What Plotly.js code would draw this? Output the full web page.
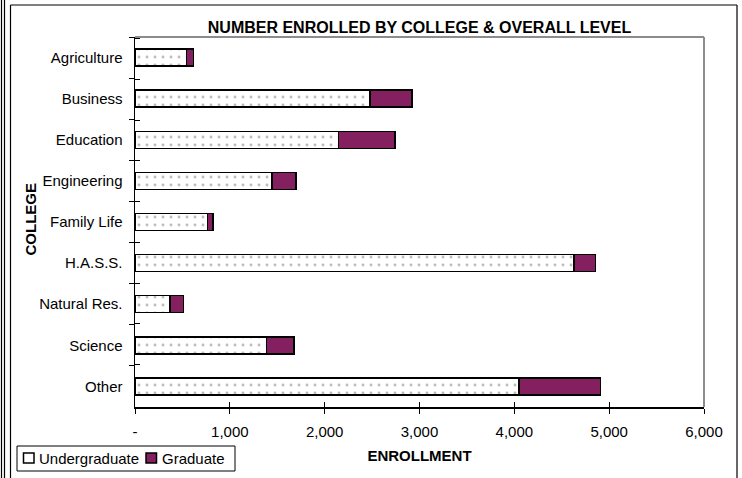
<!DOCTYPE html>
<html>
<head>
<meta charset="utf-8">
<script src="https://cdn.plot.ly/plotly-3.0.1.min.js"></script>
<style>
  html, body { margin: 0; padding: 0; background: #fff; }
  #chart { width: 742px; height: 478px; }
</style>
</head>
<body>
<div id="chart"></div>
<script>
// ---- data ----
const colleges = ['Agriculture', 'Business', 'Education', 'Engineering', 'Family Life', 'H.A.S.S.', 'Natural Res.', 'Science', 'Other'];
const undergraduate = [545, 2480, 2145, 1445, 765, 4630, 370, 1385, 4050];
const graduate = [70, 440, 595, 255, 60, 225, 140, 290, 860];
const seriesNames = ['Undergraduate', 'Graduate'];
const xTickVals = [0, 1000, 2000, 3000, 4000, 5000, 6000];
const xTickText = ['-', '1,000', '2,000', '3,000', '4,000', '5,000', '6,000'];

// ---- layout geometry (pixels) ----
const W = 742, H = 478;
const M = { l: 135, r: 38, t: 37, b: 71 };
const PW = W - M.l - M.r, PH = H - M.t - M.b;
const px = x => (x - M.l) / PW;
const py = y => (H - M.b - y) / PH;

const FONT = 'Liberation Sans, Arial, Helvetica, sans-serif';
const GRAD_COLOR = '#84205F';

const traces = [
  {
    type: 'bar', orientation: 'h', name: seriesNames[0],
    y: colleges, x: undergraduate,
    marker: {
      color: '#ffffff',
      pattern: { shape: '.', fgcolor: '#bdbdbd', bgcolor: '#ffffff', size: 8, solidity: 0.1 },
      line: { color: '#000000', width: 1.5 }
    },
    hoverinfo: 'x+y'
  },
  {
    type: 'bar', orientation: 'h', name: seriesNames[1],
    y: colleges, x: graduate,
    marker: { color: GRAD_COLOR, line: { color: '#000000', width: 1.5 } },
    hoverinfo: 'x+y'
  },
  {
    // invisible helper trace to carry the inner half of the crossing ticks
    type: 'scatter', mode: 'markers', x: undergraduate, y: colleges,
    xaxis: 'x2', yaxis: 'y2', marker: { opacity: 0 }, hoverinfo: 'skip', showlegend: false
  }
];

const shapes = [
  // outer frames
  { type: 'line', xref: 'paper', yref: 'paper', x0: px(1.5), x1: px(1.5), y0: py(0), y1: py(H), line: { color: '#000', width: 1.2 } },
  { type: 'line', xref: 'paper', yref: 'paper', x0: px(4.5), x1: px(4.5), y0: py(0), y1: py(H), line: { color: '#000', width: 1.2 } },
  { type: 'line', xref: 'paper', yref: 'paper', x0: px(10.5), x1: px(10.5), y0: py(5), y1: py(H), line: { color: '#000', width: 1.2 } },
  { type: 'line', xref: 'paper', yref: 'paper', x0: px(10.5), x1: px(737), y0: py(5), y1: py(5), line: { color: '#000', width: 1.2 } },
  { type: 'line', xref: 'paper', yref: 'paper', x0: px(737), x1: px(737), y0: py(5), y1: py(H), line: { color: '#000', width: 1.2 } },
  // plot area top/right gray edges
  { type: 'line', xref: 'paper', yref: 'paper', x0: 0, x1: 1, y0: 1, y1: 1, line: { color: '#8c8c8c', width: 2 }, layer: 'below' },
  { type: 'line', xref: 'paper', yref: 'paper', x0: 1, x1: 1, y0: 0, y1: 1, line: { color: '#8c8c8c', width: 2 }, layer: 'below' },
  // legend box and swatches
  { type: 'rect', xref: 'paper', yref: 'paper', x0: px(17), x1: px(235), y0: py(471), y1: py(446), line: { color: '#000', width: 1 }, fillcolor: 'rgba(0,0,0,0)' },
  { type: 'rect', xref: 'paper', yref: 'paper', x0: px(23.5), x1: px(34), y0: py(463), y1: py(453), line: { color: '#000', width: 1.5 }, fillcolor: '#ffffff' },
  { type: 'rect', xref: 'paper', yref: 'paper', x0: px(146), x1: px(156.5), y0: py(463), y1: py(453), line: { color: '#000', width: 1.5 }, fillcolor: GRAD_COLOR }
];

const annotations = [
  { text: 'COLLEGE', xref: 'paper', yref: 'paper', x: px(29.5), y: py(219), textangle: -90, showarrow: false,
    xanchor: 'center', yanchor: 'middle', font: { family: FONT, size: 15, weight: 'bold', color: '#000' } },
  { text: seriesNames[0], xref: 'paper', yref: 'paper', x: px(37), y: py(458), showarrow: false,
    xanchor: 'left', yanchor: 'middle', font: { family: FONT, size: 15, color: '#000' } },
  { text: seriesNames[1], xref: 'paper', yref: 'paper', x: px(160), y: py(458), showarrow: false,
    xanchor: 'left', yanchor: 'middle', font: { family: FONT, size: 15, color: '#000' } }
];

const layout = {
  width: W, height: H,
  margin: M,
  paper_bgcolor: '#ffffff', plot_bgcolor: '#ffffff',
  font: { family: FONT, size: 15, color: '#000' },
  showlegend: false,
  barmode: 'stack',
  bargap: 0.586,
  title: {
    text: 'NUMBER ENROLLED BY COLLEGE &amp; OVERALL LEVEL',
    font: { family: FONT, size: 16, weight: 'bold', color: '#000' },
    xref: 'paper', x: 0.5, xanchor: 'center',
    yref: 'container', y: 1 - 27.5 / H, yanchor: 'middle'
  },
  xaxis: {
    range: [0, 6000], tickvals: xTickVals, ticktext: xTickText,
    ticks: 'outside', ticklen: 5, tickwidth: 1, tickcolor: '#000',
    showline: true, linecolor: '#000', linewidth: 1.5,
    showgrid: false, zeroline: false, fixedrange: true,
    tickfont: { family: FONT, size: 15, color: '#000' },
    ticklabelstandoff: 5,
    title: { text: 'ENROLLMENT', font: { family: FONT, size: 15, weight: 'bold', color: '#000' }, standoff: 12 }
  },
  yaxis: {
    type: 'category', categoryorder: 'array', categoryarray: colleges,
    autorange: 'reversed', tickson: 'boundaries',
    ticks: 'outside', ticklen: 5, tickwidth: 1, tickcolor: '#000',
    showline: true, linecolor: '#000', linewidth: 1.5,
    showgrid: false, zeroline: false, fixedrange: true,
    tickfont: { family: FONT, size: 15, color: '#000' },
    ticklabelstandoff: 8
  },
  xaxis2: {
    overlaying: 'x', anchor: 'y', side: 'bottom', range: [0, 6000], tickvals: xTickVals,
    ticks: 'inside', ticklen: 5, tickwidth: 1, tickcolor: '#000',
    showticklabels: false, showline: false, showgrid: false, zeroline: false, fixedrange: true
  },
  yaxis2: {
    overlaying: 'y', anchor: 'x', side: 'left', type: 'category', categoryorder: 'array', categoryarray: colleges,
    autorange: 'reversed', tickson: 'boundaries',
    ticks: 'inside', ticklen: 5, tickwidth: 1, tickcolor: '#000',
    showticklabels: false, showline: false, showgrid: false, zeroline: false, fixedrange: true
  },
  shapes: shapes,
  annotations: annotations
};

Plotly.newPlot('chart', traces, layout, { displayModeBar: false, staticPlot: true });
</script>
</body>
</html>
